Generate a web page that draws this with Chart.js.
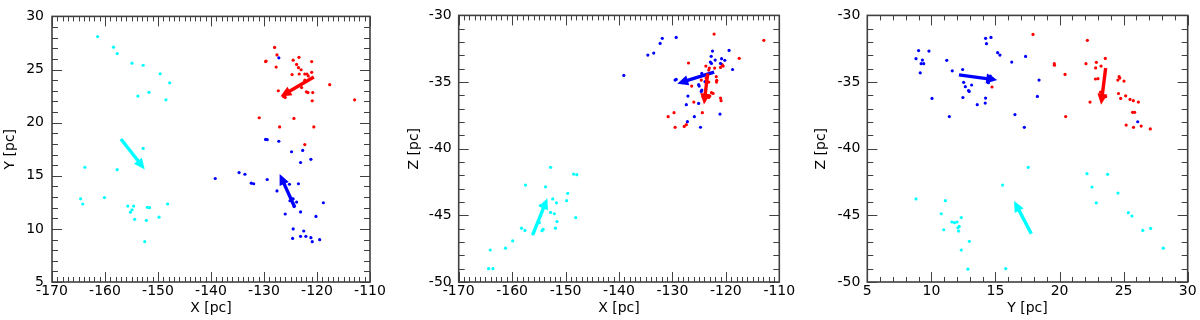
<!DOCTYPE html>
<html>
<head>
<meta charset="utf-8">
<script src="https://cdn.jsdelivr.net/npm/chart.js@4.4.0/dist/chart.umd.min.js"></script>
<style>
  body { margin: 0; background: #fff; }
  .panel { position: absolute; top: 0; width: 400px; height: 320px; }
</style>
</head>
<body>
<div class="panel" style="left:0px"><canvas id="xy" width="400" height="320"></canvas></div>
<div class="panel" style="left:400px"><canvas id="xz" width="400" height="320"></canvas></div>
<div class="panel" style="left:800px"><canvas id="yz" width="400" height="320"></canvas></div>
<script>
'use strict'

// ---- data: star positions [pc], one array per group and projection ----
const cyanXY = [[-161.4,28.1],[-158.4,27.1],[-157.7,26.5],[-154.9,25.6],[-152.8,25.4],[-149.6,24.6],[-147.8,23.75],[-153.8,22.5],[-151.7,22.85],[-148.5,22.15],[-152.8,17.57],[-163.8,15.8],[-157.7,15.57],[-164.6,12.83],[-164.2,12.34],[-160.1,12.95],[-155.7,12.15],[-154.6,12.15],[-154.9,11.8],[-155.2,11.57],[-154.4,10.9],[-152.0,12.03],[-151.6,12.0],[-152.2,10.8],[-149.8,11.1],[-148.2,12.34],[-152.5,8.8]];
const redXY = [[-128.0,27.08],[-127.55,26.37],[-129.6,25.8],[-129.7,25.75],[-127.7,25.23],[-124.5,25.88],[-123.4,26.15],[-123.85,25.48],[-123.5,25.17],[-123.0,24.98],[-121.0,25.75],[-124.7,24.52],[-123.35,24.58],[-122.3,24.58],[-121.9,24.58],[-121.0,24.74],[-121.65,24.4],[-122.3,24.0],[-122.9,23.3],[-122.0,22.9],[-121.7,22.83],[-120.8,22.83],[-127.3,23.0],[-126.0,22.37],[-126.3,22.45],[-120.9,22.06],[-117.6,23.57],[-112.9,22.15],[-130.9,20.46],[-124.35,20.4],[-127.05,19.6],[-120.6,19.6],[-122.3,17.94]];
const blueXY = [[-127.2,26.1],[-129.7,18.42],[-129.4,18.4],[-127.2,18.25],[-124.8,17.26],[-122.7,17.38],[-123.1,16.25],[-121.15,16.55],[-139.2,14.74],[-134.7,15.3],[-133.6,15.14],[-132.4,14.3],[-131.95,14.25],[-129.4,14.65],[-125.2,14.2],[-123.5,14.25],[-127.55,13.57],[-124.8,12.86],[-124.5,12.83],[-125.1,12.65],[-123.85,12.52],[-124.3,12.1],[-118.8,12.46],[-126.0,11.4],[-123.1,11.6],[-120.2,11.17],[-124.5,10.0],[-124.6,9.1],[-122.5,9.8],[-123.1,9.3],[-122.1,9.3],[-121.15,9.17],[-120.9,8.8],[-119.5,8.98]];

const cyanXZ = [[-152.8,-41.4],[-148.5,-41.9],[-147.9,-41.95],[-157.5,-42.73],[-153.75,-42.86],[-149.6,-43.35],[-152.4,-43.77],[-149.8,-43.9],[-151.7,-44.06],[-154.7,-44.26],[-152.8,-44.78],[-152.1,-44.88],[-151.6,-45.47],[-148.1,-45.17],[-151.9,-45.96],[-158.25,-45.96],[-157.6,-46.13],[-154.2,-46.05],[-154.4,-46.15],[-154.9,-45.54],[-156.1,-46.4],[-159.9,-46.92],[-161.25,-47.46],[-164.1,-47.6],[-164.4,-49.0],[-163.6,-49.0]];
const redXZ = [[-122.2,-31.4],[-112.9,-31.87],[-117.5,-33.22],[-127.0,-33.57],[-123.75,-33.8],[-123.1,-33.95],[-122.1,-33.95],[-123.2,-34.1],[-120.7,-33.7],[-120.5,-33.8],[-121.0,-33.9],[-121.8,-34.6],[-121.7,-34.87],[-121.75,-35.0],[-123.7,-34.7],[-124.6,-34.85],[-123.2,-35.0],[-126.4,-35.3],[-122.7,-35.8],[-122.4,-35.85],[-124.3,-36.1],[-123.7,-36.0],[-123.2,-36.15],[-123.0,-36.05],[-121.0,-36.2],[-120.9,-36.4],[-126.0,-36.5],[-124.4,-37.3],[-129.7,-37.3],[-130.8,-37.6],[-127.4,-38.2],[-127.8,-38.33],[-129.5,-38.4]];
const blueXZ = [[-131.9,-31.72],[-132.3,-32.1],[-129.3,-31.65],[-134.6,-32.98],[-133.5,-32.83],[-139.1,-34.5],[-122.5,-32.68],[-119.4,-32.63],[-122.75,-33.07],[-122.9,-33.5],[-122.7,-33.6],[-122.0,-33.35],[-120.8,-33.25],[-120.2,-33.37],[-121.0,-33.6],[-118.75,-34.06],[-124.5,-34.35],[-129.5,-34.85],[-129.3,-34.8],[-125.1,-35.2],[-125.0,-35.3],[-123.9,-34.97],[-124.5,-35.6],[-124.6,-35.7],[-127.1,-36.05],[-127.4,-36.7],[-125.1,-36.6],[-121.1,-37.4],[-125.9,-37.6],[-127.2,-37.97],[-124.75,-38.39]];

const cyanYZ = [[8.8,-43.77],[11.09,-43.9],[10.77,-44.88],[11.6,-45.5],[11.8,-45.55],[12.0,-45.5],[12.33,-45.17],[12.07,-45.93],[12.17,-45.83],[12.12,-46.18],[10.96,-46.08],[12.96,-46.95],[12.33,-47.6],[12.85,-49.04],[15.56,-42.73],[17.56,-41.4],[22.14,-41.87],[23.75,-41.92],[22.53,-42.88],[22.87,-44.06],[24.56,-43.33],[25.37,-44.8],[25.65,-45.05],[26.5,-46.13],[27.11,-45.98],[28.1,-47.46],[15.8,-49.0]];
const redYZ = [[14.73,-35.37],[17.93,-31.43],[22.17,-31.87],[19.59,-33.62],[19.6,-33.74],[20.43,-34.43],[20.48,-37.59],[22.06,-33.62],[22.87,-33.52],[22.82,-33.94],[23.24,-33.8],[23.57,-33.23],[22.8,-34.77],[23.0,-34.75],[22.38,-36.5],[23.2,-35.76],[23.6,-36.1],[24.65,-34.6],[24.55,-34.85],[24.7,-34.7],[25.03,-34.93],[24.6,-35.86],[24.77,-36.23],[25.16,-36.03],[25.5,-36.3],[25.76,-36.4],[26.15,-36.5],[25.7,-37.27],[25.86,-37.27],[25.2,-38.23],[25.77,-38.4],[26.37,-38.3],[27.08,-38.52]];
const blueYZ = [[14.23,-31.72],[14.3,-32.12],[14.65,-31.65],[9.0,-32.64],[9.81,-32.68],[8.8,-33.25],[9.3,-33.35],[9.2,-33.62],[9.4,-33.62],[9.13,-34.31],[11.2,-33.37],[11.63,-34.16],[12.44,-34.06],[12.52,-35.02],[12.65,-35.35],[12.9,-35.64],[12.95,-35.7],[13.14,-35.22],[12.46,-36.16],[10.05,-36.23],[13.58,-36.7],[14.23,-36.2],[14.2,-36.58],[11.4,-37.59],[14.6,-34.55],[14.75,-34.7],[14.55,-34.85],[14.45,-35.05],[15.17,-32.8],[15.35,-32.98],[17.35,-33.08],[16.27,-33.5],[18.4,-34.85],[18.27,-36.08],[16.52,-37.44],[17.25,-38.4],[26.1,-37.98]];

// mean motion arrows: [tailX, tailY, tipX, tipY] in order cyan, blue, red
const arrowsXY = [[-157.0,18.46,-152.5,15.6],[-124.2,12.03,-127.05,15.17],[-120.6,24.3,-126.9,22.46]];
const arrowsXZ = [[-156.1,-46.4,-153.4,-43.72],[-122.2,-34.26,-129.1,-35.12],[-123.4,-34.36,-124.1,-36.69]];
const arrowsYZ = [[17.8,-46.38,16.45,-43.92],[12.15,-34.46,15.14,-34.85],[23.6,-33.94,23.24,-36.7]];

// axis ranges [min, max, major step]
const rangeX = [-170, -110, 10];
const rangeY = [5, 30, 5];
const rangeZ = [-50, -30, 5];
const rangeYh = [5, 30, 5];

const CYAN = '#00ffff', BLUE = '#0000ff', RED = '#ff0000';
const FONT = {family: 'DejaVu Sans', size: 14};

const toPts = arr => arr.map(p => ({x: p[0], y: p[1]}));

// box frame + inward major/minor ticks on all four sides
const frameTicks = {
    id: 'frameTicks',
    afterDraw(chart) {
        const {ctx, chartArea: a, scales: {x, y}} = chart;
        ctx.save();
        ctx.strokeStyle = '#404040';
        ctx.lineWidth = 1;
        ctx.beginPath();
        const isMajor = (v, s) => Math.abs(v / s - Math.round(v / s)) < 1e-6;
        for (let v = x.min; v <= x.max + 1e-6; v += 1) {
            const px = Math.round(x.getPixelForValue(v)) + 0.5;
            const len = isMajor(v, x.options.ticks.stepSize) ? 10 : 5;
            ctx.moveTo(px, a.bottom); ctx.lineTo(px, a.bottom - len);
            ctx.moveTo(px, a.top); ctx.lineTo(px, a.top + len);
        }
        for (let v = y.min; v <= y.max + 1e-6; v += 1) {
            const py = Math.round(y.getPixelForValue(v)) + 0.5;
            const len = isMajor(v, y.options.ticks.stepSize) ? 10 : 6;
            ctx.moveTo(a.left, py); ctx.lineTo(a.left + len, py);
            ctx.moveTo(a.right, py); ctx.lineTo(a.right - len, py);
        }
        ctx.stroke();
        ctx.lineWidth = 1.6;
        ctx.strokeRect(a.left, a.top, a.right - a.left, a.bottom - a.top);
        ctx.restore();
    }
};

// thick arrows with filled heads, placed through the chart scales
const arrows = {
    id: 'arrows',
    afterDatasetsDraw(chart, args, opts) {
        const {ctx, scales: {x, y}} = chart;
        ctx.save();
        opts.list.forEach((a, i) => {
            const x0 = x.getPixelForValue(a[0]), y0 = y.getPixelForValue(a[1]);
            const x1 = x.getPixelForValue(a[2]), y1 = y.getPixelForValue(a[3]);
            const ang = Math.atan2(y1 - y0, x1 - x0);
            const head = 11, half = 5;
            const bx = x1 - head * Math.cos(ang), by = y1 - head * Math.sin(ang);
            ctx.strokeStyle = ctx.fillStyle = opts.colors[i];
            ctx.lineWidth = 3.4;
            ctx.beginPath();
            ctx.moveTo(x0, y0); ctx.lineTo(bx + 2 * Math.cos(ang), by + 2 * Math.sin(ang));
            ctx.stroke();
            ctx.beginPath();
            ctx.moveTo(x1, y1);
            ctx.lineTo(bx + half * Math.sin(ang), by - half * Math.cos(ang));
            ctx.lineTo(bx - half * Math.sin(ang), by + half * Math.cos(ang));
            ctx.closePath();
            ctx.fill();
        });
        ctx.restore();
    }
};

function makePanel(id, sets, arrowList, xr, yr, xTitle, yTitle, geo) {
    const axis = (r, title, horizontal) => ({
        type: 'linear',
        min: r[0], max: r[1],
        grid: {display: false, drawTicks: false},
        border: {display: false},
        ticks: {
            stepSize: r[2], autoSkip: false, maxRotation: 0,
            color: '#000', font: FONT,
            padding: horizontal ? geo.xPad : geo.yPad
        },
        title: {
            display: true, text: title, color: '#000', font: FONT,
            padding: horizontal ? {top: 0, bottom: geo.xTitle} : {top: geo.yTitle, bottom: 0}
        },
        afterFit: s => { if (horizontal) s.height = 38; else s.width = geo.left; }
    });
    return new Chart(document.getElementById(id), {
        type: 'scatter',
        data: {
            datasets: sets.map(s => ({
                data: toPts(s.data),
                backgroundColor: s.color,
                borderWidth: 0,
                pointRadius: 1.6
            }))
        },
        options: {
            responsive: false,
            animation: false,
            layout: {padding: {top: 11, right: geo.right, left: 0, bottom: 0}},
            scales: {x: axis(xr, xTitle, true), y: axis(yr, yTitle, false)},
            plugins: {
                legend: {display: false},
                tooltip: {enabled: false},
                arrows: {list: arrowList, colors: [CYAN, BLUE, RED]}
            }
        },
        plugins: [frameTicks, arrows]
    });
}

makePanel('xy',
    [{data: blueXY, color: BLUE}, {data: redXY, color: RED}, {data: cyanXY, color: CYAN}],
    arrowsXY, rangeX, rangeY, 'X [pc]', 'Y [pc]',
    {left: 52, right: 30, xPad: 1, yPad: 8, xTitle: 3.6, yTitle: 1.6});

makePanel('xz',
    [{data: blueXZ, color: BLUE}, {data: redXZ, color: RED}, {data: cyanXZ, color: CYAN}],
    arrowsXZ, rangeX, rangeZ, 'X [pc]', 'Z [pc]',
    {left: 58.7, right: 20.7, xPad: 1, yPad: 7, xTitle: 3.6, yTitle: 5.8});

makePanel('yz',
    [{data: blueYZ, color: BLUE}, {data: redYZ, color: RED}, {data: cyanYZ, color: CYAN}],
    arrowsYZ, rangeYh, rangeZ, 'Y [pc]', 'Z [pc]',
    {left: 67.3, right: 12.3, xPad: 1, yPad: 7, xTitle: 3.6, yTitle: 12.9});
</script>
</body>
</html>
